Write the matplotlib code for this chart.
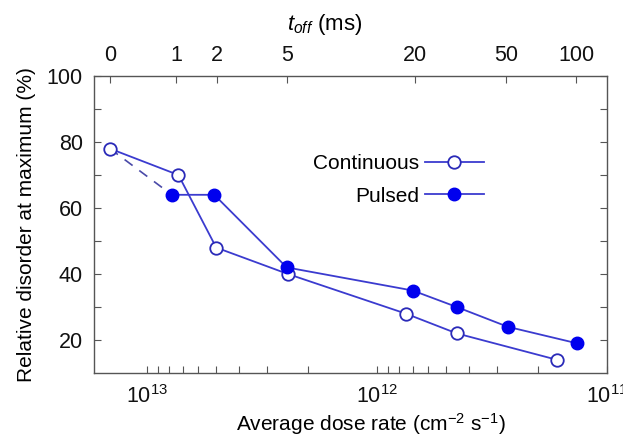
import matplotlib
matplotlib.use("Agg")
import matplotlib.pyplot as plt
from matplotlib.ticker import FixedLocator, NullLocator, LogLocator, NullFormatter

plt.rcParams['font.family'] = ['Liberation Sans', 'DejaVu Sans']
plt.rcParams['mathtext.fontset'] = 'custom'
plt.rcParams['mathtext.rm'] = 'Liberation Sans'
plt.rcParams['mathtext.it'] = 'Liberation Sans:italic'

# Data (average dose rate in cm^-2 s^-1, relative disorder in %)
cont_dose = [1.45e13, 7.3e12, 5.0e12, 2.44e12, 7.5e11, 4.5e11, 1.65e11]
cont_dis = [78, 70, 48, 40, 28, 22, 14]
puls_dose = [7.8e12, 5.1e12, 2.47e12, 7.0e11, 4.5e11, 2.7e11, 1.35e11]
puls_dis = [64, 64, 42, 35, 30, 24, 19]

# Top axis: t_off (ms) labels and corresponding dose rate positions
toff_labels = ['0', '1', '2', '5', '20', '50', '100']
toff_dose = [1.45e13, 7.45e12, 4.95e12, 2.45e12, 6.85e11, 2.75e11, 1.36e11]

xticks = [1e13, 1e12, 1e11]
xticklabels = [r'$10^{13}$', r'$10^{12}$', r'$10^{11}$']
yticks = [20, 40, 60, 80, 100]

line_c = '#3b3bcf'
fill_c = '#0000ee'

fig = plt.figure(figsize=(6.23, 4.38), dpi=100)
ax = fig.add_axes([94/623, 1-373/438, (607-94)/623, (373-76)/438])

ax.plot([cont_dose[0], puls_dose[0]], [cont_dis[0], puls_dis[0]], color='#4a4aa8',
        lw=1.2, ls=(0, (6, 5)), zorder=2)
ax.plot(cont_dose, cont_dis, color=line_c, lw=1.3, marker='o', ms=9,
        mfc='white', mec='#2a2ab8', mew=1.3, label='Continuous', zorder=3)
ax.plot(puls_dose, puls_dis, color=line_c, lw=1.3, marker='o', ms=9,
        mfc=fill_c, mec=fill_c, label='Pulsed', zorder=3)

ax.set_xscale('log')
ax.set_xlim(1.7e13, 1e11)
ax.set_ylim(10, 100)

ax.xaxis.set_major_locator(FixedLocator(xticks))
ax.set_xticklabels(xticklabels)
ax.xaxis.set_minor_locator(LogLocator(base=10, subs=range(2, 10)))
ax.xaxis.set_minor_formatter(NullFormatter())
ax.yaxis.set_major_locator(FixedLocator(yticks))
ax.yaxis.set_minor_locator(FixedLocator([30, 50, 70, 90]))

ax.tick_params(axis='both', which='both', direction='in', length=5, width=0.8,
               colors='#555555', labelcolor='#111111', labelsize=15.5)
ax.tick_params(axis='y', which='both', right=True, pad=8)
ax.tick_params(axis='x', which='both', top=False, pad=9)

for s in ax.spines.values():
    s.set_color('#555555')
    s.set_linewidth(1.0)

ax.set_xlabel(r'Average dose rate (cm$^{-2}$ s$^{-1}$)', fontsize=15)
ax.xaxis.set_label_coords(0.54, -0.128)
ax.set_ylabel('Relative disorder at maximum (%)', fontsize=15, labelpad=8)

ax2 = ax.twiny()
ax2.set_xscale('log')
ax2.set_xlim(ax.get_xlim())
ax2.xaxis.set_major_locator(FixedLocator(toff_dose))
ax2.set_xticklabels(toff_labels)
ax2.xaxis.set_minor_locator(NullLocator())
ax2.tick_params(axis='x', which='both', direction='in', length=5, width=0.8,
                colors='#555555', labelcolor='#111111', labelsize=15.5, pad=7)
ax2.set_xlabel(r'$\mathit{t}_{\mathit{off}}$ (ms)', fontsize=16, labelpad=10)
ax2.xaxis.set_label_coords(0.45, 1.155)
for s in ax2.spines.values():
    s.set_visible(False)

leg = ax.legend(loc='upper left', bbox_to_anchor=(0.39, 0.80), frameon=False,
                markerfirst=False, fontsize=15, handlelength=2.8,
                handletextpad=0.3, labelspacing=0.65)

fig.savefig('out.png', dpi=100)
